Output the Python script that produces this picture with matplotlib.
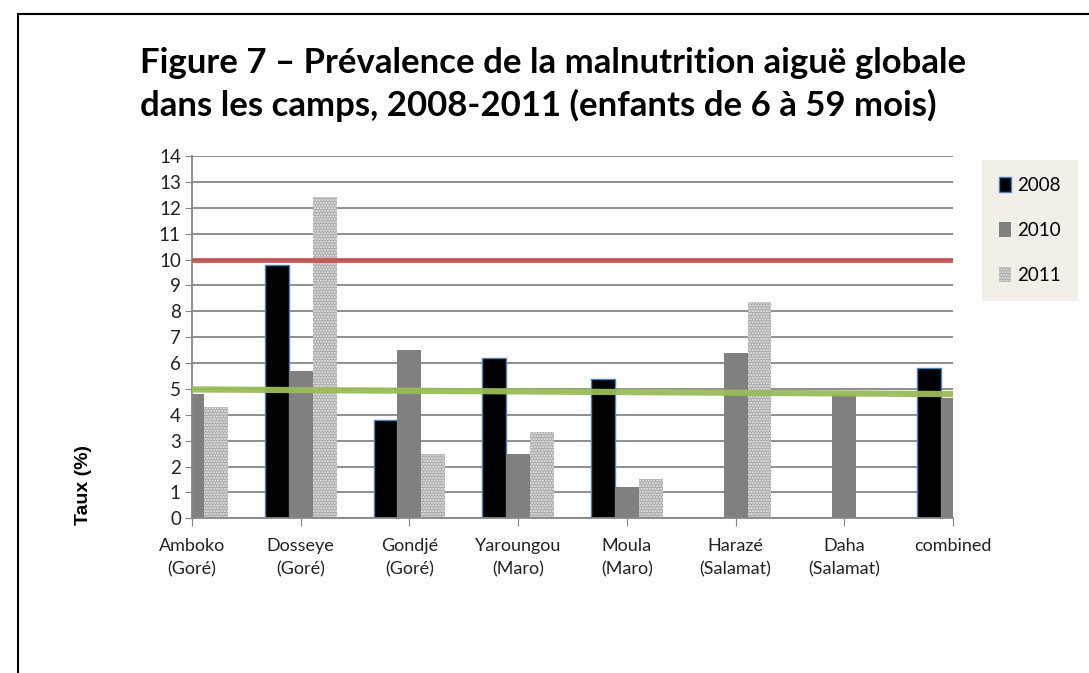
import numpy as np
import matplotlib
matplotlib.use("Agg")
import matplotlib.pyplot as plt
from matplotlib.patches import Patch

# --- data ---
camps = ["Amboko\n(Goré)", "Dosseye\n(Goré)", "Gondje\u0301\n(Goré)", "Yaroungou\n(Maro)",
         "Moula\n(Maro)", "Haraze\u0301\n(Salamat)", "Daha\n(Salamat)", "combined"]
years = ["2008", "2010", "2011"]
v2008 = [np.nan, 9.8, 3.8, 6.2, 5.4, np.nan, np.nan, 5.8]
v2010 = [4.8, 5.7, 6.5, 2.5, 1.2, 6.4, 4.8, 4.65]
v2011 = [4.3, 12.4, 2.5, 3.35, 1.5, 8.35, np.nan, np.nan]
seuil_urgence = [10.0, 10.0]
seuil_alerte = [4.98, 4.8]
yticks = list(range(0, 15))

plt.rcParams['font.family'] = ['Lato', 'DejaVu Sans']
plt.rcParams['hatch.linewidth'] = 1.0

fig = plt.figure(figsize=(10.89, 6.73), dpi=100)
ax = fig.add_axes([0.1763, 0.2299, 0.6988, 0.5383])

x = np.arange(len(camps))
w = 0.22
pat_face, pat_hatch = '#a9a9a9', '#ececec'
ax.bar(x - w, v2008, w, color='black', edgecolor='#4F81BD', linewidth=1, zorder=2)
ax.bar(x, v2010, w, color='#808080', linewidth=0, zorder=2)
ax.bar(x + w, v2011, w, color=pat_face, edgecolor=pat_hatch, hatch='......', linewidth=0, zorder=2)

# threshold lines
ax.plot([x[0], x[-1]], seuil_urgence, color='#C0504D', lw=3.5, alpha=0.9, zorder=3, solid_capstyle='butt')
ax.plot([x[0], x[-1]], seuil_alerte, color='#9BBB59', lw=4.5, alpha=0.95, zorder=3, solid_capstyle='butt')

ax.set_xlim(0, 7)
ax.set_ylim(0, 14)
ax.set_yticks(yticks)
ax.set_xticks(x)
ax.set_xticklabels(camps, fontsize=13, color='#222222', linespacing=1.55)
ax.tick_params(axis='y', labelsize=13.5, length=5, color='#868686', labelcolor='#222222', pad=3)
ax.tick_params(axis='x', length=6, color='#868686', pad=8)
ax.grid(axis='y', color='#868686', lw=1.3, zorder=0)
ax.set_axisbelow(True)
for s in ['top', 'right']:
    ax.spines[s].set_visible(False)
for s in ['left', 'bottom']:
    ax.spines[s].set_color('#868686')
    ax.spines[s].set_linewidth(1.3)

fig.text(84 / 1089, 1 - 485 / 673, "Taux (%)", rotation=90, fontsize=14, fontweight='bold',
         family=['Liberation Sans', 'DejaVu Sans'], ha='center', va='center')

fig.text(140 / 1089, 1 - 47 / 673,
         "Figure 7 – Prévalence de la malnutrition aiguë globale\n"
         "dans les camps, 2008-2011 (enfants de 6 à 59 mois)",
         fontsize=25, fontweight='bold', ha='left', va='top', linespacing=1.38)

handles = [Patch(facecolor='black', edgecolor='#4F81BD', lw=1),
           Patch(facecolor='#808080'),
           Patch(facecolor=pat_face, edgecolor=pat_hatch, hatch='......', lw=0)]
leg = fig.legend(handles, years, loc='upper left', bbox_to_anchor=(0.902, 0.762),
                 fontsize=13.5, frameon=True, fancybox=False, handlelength=0.65,
                 handleheight=0.85, handletextpad=0.3, labelspacing=1.5,
                 borderpad=0.9, borderaxespad=0)
leg.get_frame().set_facecolor('#EEECE1')
leg.get_frame().set_edgecolor('none')

# frame around the figure (top and left only visible)
fig.add_artist(plt.Line2D([18 / 1089, 1], [1 - 14 / 673, 1 - 14 / 673], color='black', lw=1.5,
                          transform=fig.transFigure))
fig.add_artist(plt.Line2D([18 / 1089, 18 / 1089], [0, 1 - 14 / 673], color='black', lw=1.5,
                          transform=fig.transFigure))

fig.savefig('out.png', dpi=100)
